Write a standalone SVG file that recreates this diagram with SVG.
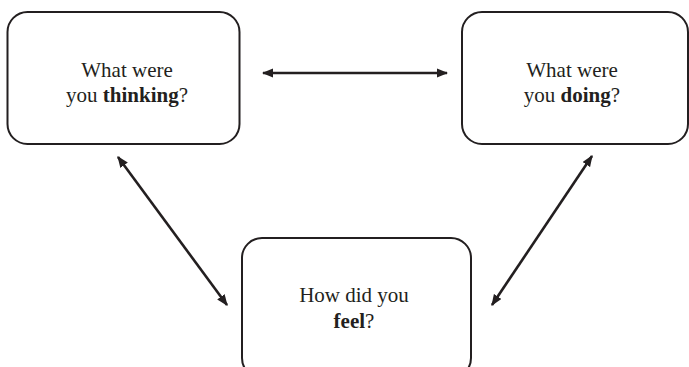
<svg xmlns="http://www.w3.org/2000/svg" width="689" height="367" viewBox="0 0 689 367">
<style>
.box{fill:#fff;stroke:#231f20;stroke-width:2}
.t{font-family:"Liberation Serif","Times New Roman",serif;font-size:21px;fill:#231f20;text-anchor:middle}
.b{font-weight:bold}
.c{stroke:#231f20;stroke-width:2.6;fill:none;marker-start:url(#ah);marker-end:url(#ah)}
</style>
<defs>
<marker id="ah" viewBox="0 0 10 8" refX="9" refY="4" markerWidth="4.4" markerHeight="3.6" orient="auto-start-reverse" markerUnits="strokeWidth">
<path d="M0,0 L10,4 L0,8 Z" fill="#231f20"/>
</marker>
</defs>
<rect width="689" height="367" fill="#fff"/>
<g id="connectors">
<line class="c" x1="263" y1="73" x2="447" y2="73"/>
<line class="c" x1="118" y1="157" x2="227" y2="305"/>
<line class="c" x1="592" y1="156" x2="492" y2="305"/>
</g>
<g id="thinking">
<rect class="box" x="7.5" y="12" width="232" height="132" rx="20"/>
<text class="t" x="127" y="77">What were</text>
<text class="t" x="127" y="102">you <tspan class="b">thinking</tspan>?</text>
</g>
<g id="doing">
<rect class="box" x="462" y="12" width="226" height="132" rx="20"/>
<text class="t" x="572" y="77">What were</text>
<text class="t" x="572" y="102">you <tspan class="b">doing</tspan>?</text>
</g>
<g id="feel">
<rect class="box" x="242" y="238" width="229" height="140" rx="20"/>
<text class="t" x="354" y="302">How did you</text>
<text class="t" x="354" y="328"><tspan class="b">feel</tspan>?</text>
</g>
</svg>
